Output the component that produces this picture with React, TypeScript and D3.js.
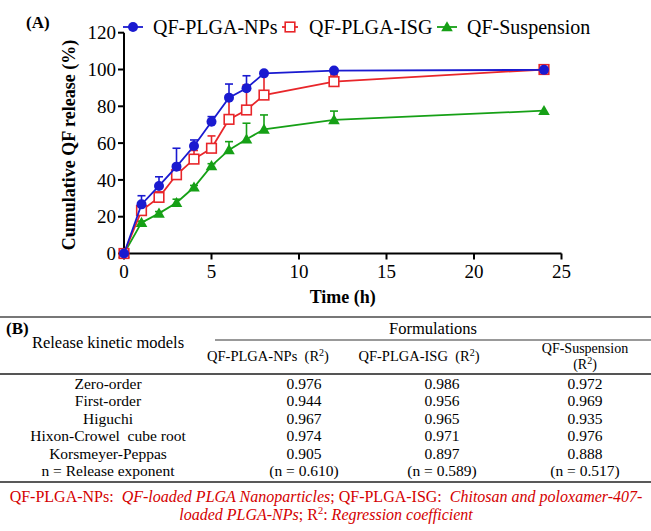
import React from "react";
import * as d3 from "d3";

const times = [0, 1, 2, 3, 4, 5, 6, 7, 8, 12, 24];
const npsMean = [0, 26.7, 36.7, 47.2, 58.4, 71.6, 84.7, 89.8, 97.9, 99.4, 99.8];
const npsErr = [0, 4.7, 5.0, 10.0, 3.3, 2.8, 7.4, 6.8, 0.5, 0.4, 0.3];
const isgMean = [0, 23.3, 30.5, 42.8, 51.3, 57.2, 72.9, 78.0, 86.1, 93.4, 100];
const isgErr = [0, 1.5, 3.0, 4.0, 4.7, 6.7, 12.3, 13.6, 10.9, 3.6, 0.3];
const susMean = [0, 16.8, 21.8, 27.6, 36.0, 47.6, 56.3, 62.1, 67.5, 72.6, 77.6];
const susErr = [0, 0.8, 1.0, 1.9, 1.0, 1.2, 4.5, 8.7, 7.8, 4.8, 0.4];

const xTicks = [0, 5, 10, 15, 20, 25];
const yTicks = [0, 20, 40, 60, 80, 100, 120];

const seriesNames = ["QF-PLGA-NPs", "QF-PLGA-ISG", "QF-Suspension"];

const modelNames = [
  "Zero-order",
  "First-order",
  "Higuchi",
  "Hixon-Crowel  cube root",
  "Korsmeyer-Peppas",
  "n = Release exponent",
];
const colNps = ["0.976", "0.944", "0.967", "0.974", "0.905", "(n = 0.610)"];
const colIsg = ["0.986", "0.956", "0.965", "0.971", "0.897", "(n = 0.589)"];
const colSus = ["0.972", "0.969", "0.935", "0.976", "0.888", "(n = 0.517)"];

const BLUE = "#1a1ad0";
const RED = "#e8262a";
const GREEN = "#16a016";
const FOOT = "#d40000";
const SERIF = '"Liberation Serif", "DejaVu Serif", serif';

export default function App() {
  const W = 651;
  const H = 531;
  const x = d3.scaleLinear().domain([0, 25]).range([124, 561.5]);
  const y = d3.scaleLinear().domain([0, 120]).range([253.5, 32.7]);
  const line = d3
    .line<[number, number]>()
    .x((d) => x(d[0]))
    .y((d) => y(d[1]));

  const series = [
    { name: seriesNames[2], mean: susMean, err: susErr, color: GREEN, shape: "tri" },
    { name: seriesNames[1], mean: isgMean, err: isgErr, color: RED, shape: "sq" },
    { name: seriesNames[0], mean: npsMean, err: npsErr, color: BLUE, shape: "circ" },
  ];

  const marker = (shape: string, cx: number, cy: number, color: string, key: string) => {
    if (shape === "circ") return <circle key={key} cx={cx} cy={cy} r={5} fill={color} />;
    if (shape === "sq")
      return (
        <rect key={key} x={cx - 4.8} y={cy - 4.8} width={9.6} height={9.6} fill="#fff" stroke={color} strokeWidth={1.6} />
      );
    const s = 5.8;
    return (
      <path
        key={key}
        d={`M${cx},${cy - s}L${cx + s},${cy + s * 0.75}L${cx - s},${cy + s * 0.75}Z`}
        fill={color}
      />
    );
  };

  const legendItems = [
    { name: seriesNames[0], color: BLUE, shape: "circ", x0: 123, x1: 143, tx: 153 },
    { name: seriesNames[1], color: RED, shape: "sq", x0: 282, x1: 298, tx: 309 },
    { name: seriesNames[2], color: GREEN, shape: "tri", x0: 437, x1: 457, tx: 467 },
  ];
  const legendY = 27;

  const rowY = (i: number) => 389 + i * 17.4;
  const c1 = 304;
  const c2 = 442;
  const c3 = 585;
  const cLab = 108;
  const f = { fontFamily: SERIF };

  return (
    <div style={{ position: "absolute", left: 0, top: 0 }}>
      <svg width={W} height={H} viewBox={`0 0 ${W} ${H}`} style={{ display: "block", background: "#fff", fontFamily: SERIF }}>
        <rect width={W} height={H} fill="#fff" />
        <text x={26} y={28} style={f} fontWeight="bold" fontSize={17}>
          (A)
        </text>

        <g stroke="#000" strokeWidth={2} fill="none">
          <line x1={x(0)} x2={x(0)} y1={y(120)} y2={y(0)} />
          <line x1={x(0)} x2={x(25)} y1={y(0)} y2={y(0)} />
          {yTicks.map((t) => (
            <line key={"yt" + t} x1={x(0) - 6} x2={x(0)} y1={y(t)} y2={y(t)} />
          ))}
          {xTicks.map((t) => (
            <line key={"xt" + t} x1={x(t)} x2={x(t)} y1={y(0)} y2={y(0) + 6} />
          ))}
        </g>
        {yTicks.map((t) => (
          <text key={"yl" + t} x={x(0) - 8} y={y(t)} dy="0.35em" textAnchor="end" style={f} fontSize={19}>
            {t}
          </text>
        ))}
        {xTicks.map((t) => (
          <text key={"xl" + t} x={x(t)} y={y(0) + 24} textAnchor="middle" style={f} fontSize={19}>
            {t}
          </text>
        ))}
        <text x={(x(0) + x(25)) / 2} y={303} textAnchor="middle" style={f} fontWeight="bold" fontSize={18}>
          Time (h)
        </text>
        <text
          transform={`translate(75, ${(y(0) + y(120)) / 2 + 2}) rotate(-90)`}
          textAnchor="middle"
          style={f}
          fontWeight="bold"
          fontSize={18}
        >
          Cumulative QF release (%)
        </text>

        {series.map((s) => {
          const pts = times.map((t, i) => [t, s.mean[i]] as [number, number]);
          return (
            <g key={s.name}>
              {times.map((t, i) =>
                s.err[i] > 0.6 ? (
                  <g key={"e" + i} stroke={s.color} strokeWidth={1.6}>
                    <line x1={x(t)} x2={x(t)} y1={y(s.mean[i])} y2={y(s.mean[i] + s.err[i])} />
                    <line x1={x(t) - 4} x2={x(t) + 4} y1={y(s.mean[i] + s.err[i])} y2={y(s.mean[i] + s.err[i])} />
                  </g>
                ) : null
              )}
              <path d={line(pts) || ""} fill="none" stroke={s.color} strokeWidth={1.8} />
              {pts.map((p, i) => marker(s.shape, x(p[0]), y(p[1]), s.color, s.name + i))}
            </g>
          );
        })}

        {legendItems.map((l) => (
          <g key={l.name}>
            <line x1={l.x0} x2={l.x1} y1={legendY} y2={legendY} stroke={l.color} strokeWidth={1.8} />
            {marker(l.shape, (l.x0 + l.x1) / 2, legendY, l.color, "lm" + l.name)}
            <text x={l.tx} y={legendY} dy="0.35em" style={f} fontSize={20}>
              {l.name}
            </text>
          </g>
        ))}

        <line x1={0} x2={W} y1={317} y2={317} stroke="#777" strokeWidth={2} />
        <text x={6} y={334} style={f} fontWeight="bold" fontSize={17}>
          (B)
        </text>
        <text x={433} y={334} textAnchor="middle" style={f} fontSize={16.5}>
          Formulations
        </text>
        <line x1={215} x2={W} y1={340} y2={340} stroke="#777" strokeWidth={1.5} />
        <text x={cLab} y={348} textAnchor="middle" style={f} fontSize={16.5}>
          Release kinetic models
        </text>
        <text x={268} y={361} textAnchor="middle" style={f} fontSize={14.5} xmlSpace="preserve">
          QF-PLGA-NPs  (R<tspan fontSize={10} dy={-5}>2</tspan>
          <tspan dy={5}>)</tspan>
        </text>
        <text x={419} y={361} textAnchor="middle" style={f} fontSize={14.5} xmlSpace="preserve">
          QF-PLGA-ISG  (R<tspan fontSize={10} dy={-5}>2</tspan>
          <tspan dy={5}>)</tspan>
        </text>
        <text x={585} y={353} textAnchor="middle" style={f} fontSize={14}>
          QF-Suspension
        </text>
        <text x={585} y={369} textAnchor="middle" style={f} fontSize={14}>
          (R<tspan fontSize={10} dy={-5}>2</tspan>
          <tspan dy={5}>)</tspan>
        </text>
        <line x1={0} x2={W} y1={374} y2={374} stroke="#555" strokeWidth={2} />
        {modelNames.map((m, i) => (
          <g key={m} style={f} fontSize={15.5} textAnchor="middle">
            <text x={cLab} y={rowY(i)} xmlSpace="preserve">
              {m}
            </text>
            <text x={c1} y={rowY(i)}>{colNps[i]}</text>
            <text x={c2} y={rowY(i)}>{colIsg[i]}</text>
            <text x={c3} y={rowY(i)}>{colSus[i]}</text>
          </g>
        ))}
        <line x1={0} x2={W} y1={482} y2={482} stroke="#222" strokeWidth={1.5} />

        <text x={326} y={502} textAnchor="middle" style={f} fontSize={16} fill={FOOT} xmlSpace="preserve">
          QF-PLGA-NPs:  <tspan fontStyle="italic">QF-loaded PLGA Nanoparticles</tspan>; QF-PLGA-ISG:  <tspan fontStyle="italic">Chitosan and poloxamer-407-</tspan>
        </text>
        <text x={326} y={520} textAnchor="middle" style={f} fontSize={16} fill={FOOT}>
          <tspan fontStyle="italic">loaded PLGA-NPs</tspan>; R<tspan fontSize={10.5} dy={-6}>2</tspan>
          <tspan dy={6}>: </tspan>
          <tspan fontStyle="italic">Regression coefficient</tspan>
        </text>
      </svg>
    </div>
  );
}
